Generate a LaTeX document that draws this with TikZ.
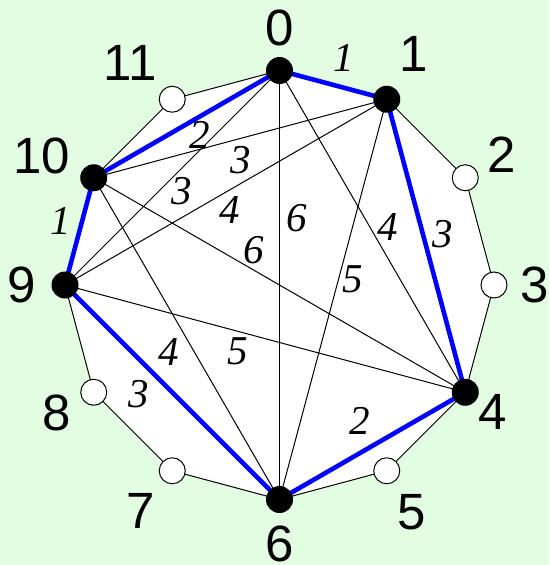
\documentclass[tikz,border=0pt]{standalone}
\usepackage{fontspec}
\newfontfamily\numfont{Liberation Sans}
\newfontfamily\labfont{Liberation Serif}
\definecolor{bggreen}{RGB}{226,253,226}
\definecolor{edgeblue}{RGB}{0,0,255}
\begin{document}
\begin{tikzpicture}[x=1pt,y=-1pt,
  chord/.style={draw=black,line width=1pt},
  blueedge/.style={draw=edgeblue,line width=4.6pt},
  bdot/.style={circle,fill=black,inner sep=0pt,minimum size=27pt},
  wdot/.style={circle,fill=white,draw=black,line width=1pt,inner sep=0pt,minimum size=26pt},
  vlab/.style={inner sep=0pt,font={\numfont\fontsize{51}{51}\selectfont}},
  elab/.style={inner sep=0pt,font={\labfont\itshape\fontsize{41}{41}\selectfont}}]
\fill[bggreen] (0,0) rectangle (549,565);
\useasboundingbox (0,0) rectangle (549,565);
\foreach \k in {0,...,11}
  \coordinate (v\k) at ({279.5+214.5*cos(90-30*\k)},{285-214.5*sin(90-30*\k)});
% polygon
\filldraw[fill=white,draw=black,line width=1pt]
  (v0) -- (v1) -- (v2) -- (v3) -- (v4) -- (v5) -- (v6) -- (v7) -- (v8) -- (v9) -- (v10) -- (v11) -- cycle;
% chords
\draw[chord] (v0) -- (v4);
\draw[chord] (v0) -- (v6);
\draw[chord] (v0) -- (v9);
\draw[chord] (v1) -- (v6);
\draw[chord] (v1) -- (v9);
\draw[chord] (v1) -- (v10);
\draw[chord] (v4) -- (v9);
\draw[chord] (v4) -- (v10);
\draw[chord] (v6) -- (v10);
% blue cycle
\draw[blueedge] (v0) -- (v1);
\draw[blueedge] (v1) -- (v4);
\draw[blueedge] (v4) -- (v6);
\draw[blueedge] (v6) -- (v9);
\draw[blueedge] (v9) -- (v10);
\draw[blueedge] (v10) -- (v0);
% vertices
\foreach \k in {0,1,4,6,9,10} \node[bdot] (n\k) at (v\k) {};
\foreach \k in {2,3,5,7,8,11} \node[wdot] (n\k) at (v\k) {};
% vertex labels
\node[vlab] (l0) at (280,27.7) {0};
\node[vlab] (l1) at (414,54) {1};
\node[vlab] (l2) at (502,155) {2};
\node[vlab] (l3) at (535,285) {3};
\node[vlab] (l4) at (493,411.7) {4};
\node[vlab] (l5) at (411.7,511.7) {5};
\node[vlab] (l6) at (280,544) {6};
\node[vlab] (l7) at (141,511) {7};
\node[vlab] (l8) at (56.3,413) {8};
\node[vlab] (l9) at (21.7,284.5) {9};
\node[vlab] (l10) at (42,155.7) {10};
\node[vlab] (l11) at (130,63.3) {11};
% edge labels
\node[elab] (e01) at (344,58) {1};
\node[elab] (e100) at (200,135) {2};
\node[elab] (e110) at (240.5,159.7) {3};
\node[elab] (e09) at (182,191.5) {3};
\node[elab] (e19) at (230,210) {4};
\node[elab] (e06) at (297,218) {6};
\node[elab] (e410) at (254,250) {6};
\node[elab] (e04) at (387.5,226.7) {4};
\node[elab] (e14) at (443,234) {3};
\node[elab] (e16) at (352.7,279) {5};
\node[elab] (e910) at (61,221) {1};
\node[elab] (e610) at (169,351.7) {4};
\node[elab] (e49) at (238,351) {5};
\node[elab] (e69) at (139,394) {3};
\node[elab] (e46) at (360,420.5) {2};
\end{tikzpicture}
\end{document}
